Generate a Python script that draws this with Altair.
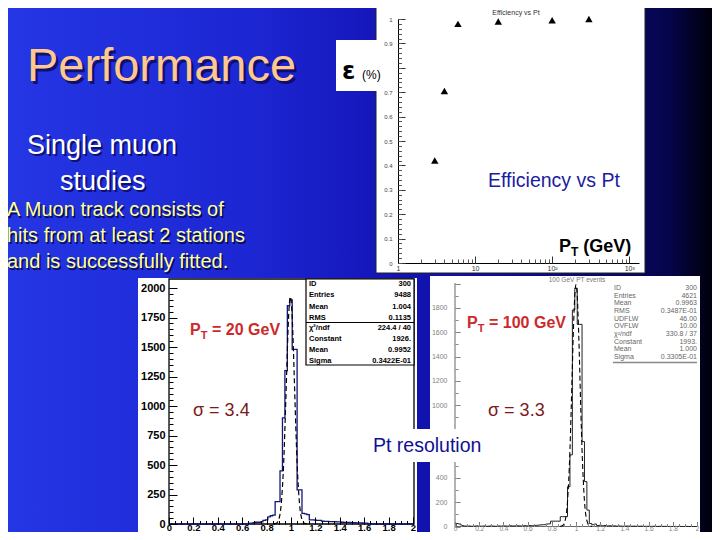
import altair as alt
import pandas as pd

W, H = 704, 524
M = 8
FONT = "Liberation Sans"


def PX(x):
    return x - M


def PY(y):
    return y - M


# ---------------- data ----------------
# Efficiency vs Pt
eff_pt = [3, 4, 6, 20, 100, 300]
eff_val = [0.42, 0.705, 0.98, 0.99, 0.995, 1.0]
eff_xmajor = [1, 10, 100, 1000]
eff_xminor = [2, 3, 4, 5, 6, 7, 8, 9, 20, 30, 40, 50, 60, 70, 80, 90,
              200, 300, 400, 500, 600, 700, 800, 900]
eff_ylabels = [0, 0.1, 0.2, 0.3, 0.4, 0.5, 0.6, 0.7, 0.9, 1.0]
eff_ymajor = [0, 0.1, 0.2, 0.3, 0.4, 0.5, 0.6, 0.7, 0.8, 0.9, 1.0]
eff_yminor = [round(0.02 * i, 2) for i in range(51)]

# Pt = 20 GeV histogram (bin width 0.02)
h20_counts = [5, 8, 12, 15, 15, 18, 30, 35, 60, 70, 75, 190, 190, 450, 900,
              1300, 1850, 1900, 1480, 1480, 290, 290, 90, 85, 80, 35, 35, 32,
              30, 30, 25, 22, 22, 20, 20, 20, 18, 18, 15, 14, 14, 13, 12, 12,
              10, 10, 10, 8, 8]
h20_edges = [round(0.65 + 0.02 * i, 2) for i in range(len(h20_counts))]
fit20_x = [0.86, 0.88, 0.90, 0.92, 0.94, 0.96, 0.97, 0.98, 0.99, 0.995, 1.00,
           1.01, 1.02, 1.03, 1.04, 1.05, 1.07, 1.09, 1.11, 1.13]
fit20_y = [1, 6, 40, 170, 520, 1135, 1470, 1750, 1905, 1926, 1905, 1750, 1470,
           1135, 805, 520, 170, 40, 6, 1]

# Pt = 100 GeV histogram (bin width 0.02)
h100_counts = [25, 20, 8, 4, 3, 4, 2, 3, 5, 2,
               3, 4, 2, 3, 5, 3, 2, 4, 3, 5,
               4, 3, 6, 4, 5, 6, 4, 5, 7, 5,
               8, 6, 9, 10, 12, 14, 15, 20, 22, 44,
               44, 44, 44, 81, 81, 81, 328, 590, 1783, 1962,
               1665, 1665, 700, 370, 135, 25, 15, 20, 8, 10,
               6, 8, 5, 6, 4, 5, 3, 4, 3, 2,
               4, 3, 2, 3, 2, 2, 3, 1, 2, 2,
               1, 2, 1, 1, 2, 1, 1, 0, 1, 0,
               1, 0, 1, 0, 0, 1, 0, 0, 0]
h100_edges = [round(0.01 + 0.02 * i, 2) for i in range(len(h100_counts))]
fit100_x = [0.87, 0.89, 0.91, 0.93, 0.95, 0.96, 0.97, 0.98, 0.99, 1.00, 1.01,
            1.02, 1.03, 1.04, 1.05, 1.07, 1.09, 1.11, 1.13]
fit100_y = [1, 8, 48, 210, 630, 955, 1320, 1660, 1905, 1993, 1905, 1660, 1320,
            955, 630, 210, 48, 8, 1]

hist_xmajor = [0, 0.2, 0.4, 0.6, 0.8, 1.0, 1.2, 1.4, 1.6, 1.8, 2.0]
hist_xminor = [round(0.05 * i, 2) for i in range(41)]
h20_ymajor = [0, 250, 500, 750, 1000, 1250, 1500, 1750, 2000]
h20_yminor = [50 * i for i in range(41)]
h100_ylabels = [0, 200, 400, 1000, 1200, 1400, 1600, 1800]
h100_ymajor = [0, 200, 400, 1000, 1200, 1400, 1600, 1800, 2000]
h100_yminor = [0, 100, 200, 300, 400, 500, 900, 1000, 1100, 1200, 1300, 1400,
               1500, 1600, 1700, 1800, 1900, 2000]

stats20_labels = ["ID", "Entries", "Mean", "RMS", "χ²/ndf", "Constant", "Mean", "Sigma"]
stats20_values = ["300", "9488", "1.004", "0.1135", "224.4  /  40", "1926.", "0.9952", "0.3422E-01"]
stats100_labels = ["ID", "Entries", "Mean", "RMS", "UDFLW", "OVFLW", "χ²/ndf", "Constant", "Mean", "Sigma"]
stats100_values = ["300", "4621", "0.9963", "0.3487E-01", "46.00", "10.00", "330.8  /  37", "1993.", "1.000", "0.3305E-01"]

# ---------------- helpers ----------------
ONE = pd.DataFrame({"k": [0]})


def rect(x0, y0, x1, y1, **kw):
    return alt.Chart(ONE).mark_rect(**kw).encode(
        x=alt.value(PX(x0)), x2=alt.value(PX(x1)),
        y=alt.value(PY(y0)), y2=alt.value(PY(y1)))


def hline(x0, x1, y, color, w):
    return alt.Chart(ONE).mark_rule(color=color, strokeWidth=w).encode(
        x=alt.value(PX(x0)), x2=alt.value(PX(x1)), y=alt.value(PY(y)))


def vline(x, y0, y1, color, w):
    return alt.Chart(ONE).mark_rule(color=color, strokeWidth=w).encode(
        x=alt.value(PX(x)), y=alt.value(PY(y0)), y2=alt.value(PY(y1)))


def text(s, x, y, size, color, weight="normal", align="left",
         baseline="alphabetic", font=FONT, shadow=None, sd=2.0):
    out = []
    if shadow:
        out.append(alt.Chart(ONE).mark_text(
            text=s, fontSize=size, color=shadow, fontWeight=weight, align=align,
            baseline=baseline, font=font, opacity=0.8).encode(
            x=alt.value(PX(x) + sd), y=alt.value(PY(y) + sd)))
    out.append(alt.Chart(ONE).mark_text(
        text=s, fontSize=size, color=color, fontWeight=weight, align=align,
        baseline=baseline, font=font).encode(
        x=alt.value(PX(x)), y=alt.value(PY(y))))
    return out


def lab_axis(orient, offset, values, size, color, weight, pad, expr=None,
             domain=False, dcolor="black"):
    kw = dict(orient=orient, offset=offset, values=values, labelFontSize=size,
              labelColor=color, labelFontWeight=weight, labelFont=FONT,
              labelPadding=pad, ticks=False, domain=domain, grid=False,
              title=None, labelOverlap=False, labelFlush=False,
              labelBound=False, zindex=1)
    if domain:
        kw.update(domainColor=dcolor, domainWidth=1)
    if expr:
        kw["labelExpr"] = expr
    return alt.Axis(**kw)


def tick_axis(orient, offset, values, size, color="black", width=1.0):
    return alt.Axis(orient=orient, offset=offset, values=values, labels=False,
                    ticks=True, tickSize=size, tickColor=color,
                    tickWidth=width, domain=False, grid=False, title=None,
                    zindex=1)


def axis_layer(xs, ys, xaxis, yaxis, xv, yv):
    d = pd.DataFrame({"x": [xv], "y": [yv]})
    return alt.Chart(d).mark_point(opacity=0).encode(
        x=alt.X("x:Q", scale=xs, axis=xaxis),
        y=alt.Y("y:Q", scale=ys, axis=yaxis))


def step_df(edges, counts):
    xs = [0.0] + list(edges) + [round(edges[-1] + 0.02, 2), 2.0]
    ys = [0] + list(counts) + [0, 0]
    return pd.DataFrame({"x": xs, "y": ys})


HIST_EXPR = ("datum.value == 0 ? '0' : datum.value == 1 ? '1' : "
             "datum.value == 2 ? '2' : format(datum.value, '.1f')")
INT_EXPR = "format(datum.value, 'd')"

layers = []

# ---------------- background ----------------
grad = alt.Gradient(
    gradient="linear", x1=0, x2=1, y1=0, y2=0,
    stops=[alt.GradientStop(offset=0, color="#2536e4"),
           alt.GradientStop(offset=0.35, color="#1c26d2"),
           alt.GradientStop(offset=0.55, color="#1414b6"),
           alt.GradientStop(offset=0.72, color="#0c0c92"),
           alt.GradientStop(offset=0.86, color="#08086a"),
           alt.GradientStop(offset=0.94, color="#05054a"),
           alt.GradientStop(offset=0.975, color="#020224"),
           alt.GradientStop(offset=1.0, color="#00000c")])
layers.append(alt.Chart(ONE).mark_rect(color=grad).encode(
    x=alt.value(0), x2=alt.value(W), y=alt.value(0), y2=alt.value(H)))

# ---------------- panels ----------------
layers.append(rect(376, 5, 645, 273, fill="white", stroke="#222222", strokeWidth=1))
layers.append(rect(138, 278, 417, 545, fill="white"))
layers.append(rect(430, 276, 700, 545, fill="white"))
layers.append(rect(169, 279, 414, 524, filled=False, stroke="black", strokeWidth=1.3))
layers.append(vline(455, 283, 526.5, "#666666", 1))
layers.append(hline(455, 697, 526.5, "#666666", 1))

# ---------------- efficiency plot ----------------
ex = alt.Scale(type="log", domain=[1, 1340], range=[PX(398), PX(639)], nice=False)
ey = alt.Scale(domain=[0, 1], range=[PY(263), PY(19)], nice=False, zero=False)
eff_df = pd.DataFrame({"x": eff_pt, "y": eff_val})
layers.append(alt.Chart(eff_df).mark_point(
    shape="triangle-up", filled=True, color="black", size=55, opacity=1).encode(
    x=alt.X("x:Q", scale=ex, axis=lab_axis(
        "bottom", PY(263) - H, eff_xmajor, 7, "#333333", "normal", 1,
        expr="datum.value == 100 ? '10²' : datum.value == 1000 ? '10³' : format(datum.value, 'd')",
        domain=True)),
    y=alt.Y("y:Q", scale=ey, axis=lab_axis(
        "left", -PX(398), eff_ylabels, 6, "#444444", "normal", 6,
        expr="datum.value == 0 ? '0' : datum.value == 1 ? '1' : format(datum.value, '.1f')",
        domain=True))))
layers.append(axis_layer(ex, ey, tick_axis("top", -PY(263), eff_xmajor, 7, "#333333"),
                         tick_axis("right", PX(398) - W, eff_ymajor, 7, "#333333"), 10, 0.5))
layers.append(axis_layer(ex, ey, tick_axis("top", -PY(263), eff_xminor, 4, "#555555"),
                         tick_axis("right", PX(398) - W, eff_yminor, 3.5, "#555555"), 10, 0.5))

# ---------------- Pt = 20 GeV histogram ----------------
x20 = alt.Scale(domain=[0, 2], range=[PX(169), PX(413)], nice=False)
y20 = alt.Scale(domain=[0, 2000], range=[PY(524), PY(288)], nice=False)
layers.append(alt.Chart(step_df(h20_edges, h20_counts)).mark_line(
    interpolate="step-after", color="#15157a", strokeWidth=1.3).encode(
    x=alt.X("x:Q", scale=x20, axis=lab_axis("bottom", PY(524) - H, hist_xmajor, 9.5,
                                            "black", "bold", -1.5, expr=HIST_EXPR)),
    y=alt.Y("y:Q", scale=y20, axis=lab_axis("left", -PX(169), h20_ymajor, 11,
                                            "black", "bold", 4, expr=INT_EXPR))))
layers.append(alt.Chart(pd.DataFrame({"x": fit20_x, "y": fit20_y})).mark_line(
    interpolate="monotone", color="black", strokeWidth=1.2, strokeDash=[5, 3]).encode(
    x=alt.X("x:Q", scale=x20, axis=None), y=alt.Y("y:Q", scale=y20, axis=None)))
layers.append(axis_layer(x20, y20, tick_axis("top", -PY(524), hist_xmajor, 7),
                         tick_axis("right", PX(169) - W, h20_ymajor, 8), 1, 0))
layers.append(axis_layer(x20, y20, tick_axis("top", -PY(524), hist_xminor, 3.5),
                         tick_axis("right", PX(169) - W, h20_yminor, 4), 1, 0))

# ---------------- Pt = 100 GeV histogram ----------------
x100 = alt.Scale(domain=[0, 2], range=[PX(455), PX(697)], nice=False)
y100 = alt.Scale(domain=[0, 2000], range=[PY(526.5), PY(283.7)], nice=False)
layers.append(alt.Chart(step_df(h100_edges, h100_counts)).mark_line(
    interpolate="step-after", color="#222222", strokeWidth=1).encode(
    x=alt.X("x:Q", scale=x100, axis=lab_axis("bottom", PY(526.5) - H, hist_xmajor, 6.5,
                                             "#808080", "normal", -1.5, expr=HIST_EXPR)),
    y=alt.Y("y:Q", scale=y100, axis=lab_axis("left", -PX(455), h100_ylabels, 7,
                                             "#808080", "normal", 8, expr=INT_EXPR))))
layers.append(alt.Chart(pd.DataFrame({"x": fit100_x, "y": fit100_y})).mark_line(
    interpolate="monotone", color="black", strokeWidth=1.1, strokeDash=[5, 3]).encode(
    x=alt.X("x:Q", scale=x100, axis=None), y=alt.Y("y:Q", scale=y100, axis=None)))
layers.append(axis_layer(x100, y100, tick_axis("top", -PY(526.5), hist_xmajor, 5, "#777777"),
                         tick_axis("right", PX(455) - W, h100_ymajor, 5, "#777777"), 1, 0))
layers.append(axis_layer(x100, y100, tick_axis("top", -PY(526.5), hist_xminor, 3, "#888888"),
                         tick_axis("right", PX(455) - W, h100_yminor, 3, "#888888"), 1, 0))

# ---------------- stats boxes ----------------
layers.append(rect(306, 279, 414, 365, fill="white", stroke="black", strokeWidth=1.2))
layers.append(hline(306, 414, 322.5, "black", 1.2))
rows20 = [283.5, 295, 306.5, 318, 328, 339, 350, 360.5]
for lab, val, yy in zip(stats20_labels, stats20_values, rows20):
    layers += text(lab, 309, yy, 7.5, "black", "bold", "left", "middle")
    layers += text(val, 411, yy, 7.5, "black", "bold", "right", "middle")

layers.append(hline(613, 697, 362.5, "#888888", 1.5))
rows100 = [288, 295.7, 303.3, 311, 318.7, 326.3, 334, 341.7, 349.3, 357]
for lab, val, yy in zip(stats100_labels, stats100_values, rows100):
    layers += text(lab, 614, yy, 7, "#666666", "normal", "left", "middle")
    layers += text(val, 697, yy, 7, "#666666", "normal", "right", "middle")

# ---------------- panel titles ----------------
layers += text("Efficiency vs Pt", 516, 13, 7, "#333333", "normal", "center", "middle")
layers += text("100 GeV PT events", 577, 280, 6.5, "#777777", "normal", "center", "middle")

# ---------------- epsilon box ----------------
layers.append(rect(336, 40, 379, 91, fill="white"))
layers += text("ε", 342, 79, 24, "black", "bold", font="DejaVu Sans")
layers += text("(%)", 362, 79, 12, "black")

# ---------------- efficiency annotations ----------------
layers += text("Efficiency vs Pt", 488, 187, 19.5, "#1c1ca0")
layers += text("P", 559, 252, 18, "black", "bold")
layers += text("T", 571, 256, 12, "black", "bold")
layers += text("(GeV)", 583.3, 252, 18, "black", "bold")

# ---------------- histogram annotations ----------------
RED = "#cc2a2a"
DRED = "#7a1a1a"
layers += text("P", 190, 335, 16, RED, "bold")
layers += text("T", 200.7, 339, 11, RED, "bold")
layers += text("= 20 GeV", 212, 335, 16, RED, "bold")
layers += text("σ = 3.4", 193, 416, 18, DRED)
layers += text("P", 467, 328, 16, RED, "bold")
layers += text("T", 477.7, 332, 11, RED, "bold")
layers += text("= 100 GeV", 489, 328, 16, RED, "bold")
layers += text("σ = 3.3", 488, 416, 18, DRED)

# ---------------- slide text ----------------
SH = "#0a0a50"
layers += text("Performance", 27, 81, 47, "#ffc890", shadow=SH, sd=2.5)
layers += text("Single muon", 27, 154, 27, "white", shadow=SH, sd=2)
layers += text("studies", 60, 190, 27, "white", shadow=SH, sd=2)
YEL = "#ffff99"
layers += text("A Muon track consists of", 7, 216, 20, YEL, shadow="#000030", sd=1.5)
layers += text("hits from at least 2 stations", 7, 242, 20, YEL, shadow="#000030", sd=1.5)
layers += text("and is successfully fitted.", 7, 268, 20, YEL, shadow="#000030", sd=1.5)

# ---------------- Pt resolution label ----------------
layers.append(rect(362, 429, 487, 462, fill="white"))
layers += text("Pt resolution", 373, 452, 19.5, "#101090")

chart = alt.layer(*layers).resolve_scale(
    x="independent", y="independent").resolve_axis(
    x="independent", y="independent").properties(
    width=W, height=H, padding=0,
    autosize=alt.AutoSizeParams(type="none"),
    background="#1414b0").configure_view(strokeWidth=0)

chart.save("out.html", embed_options={"renderer": "svg", "actions": False})
